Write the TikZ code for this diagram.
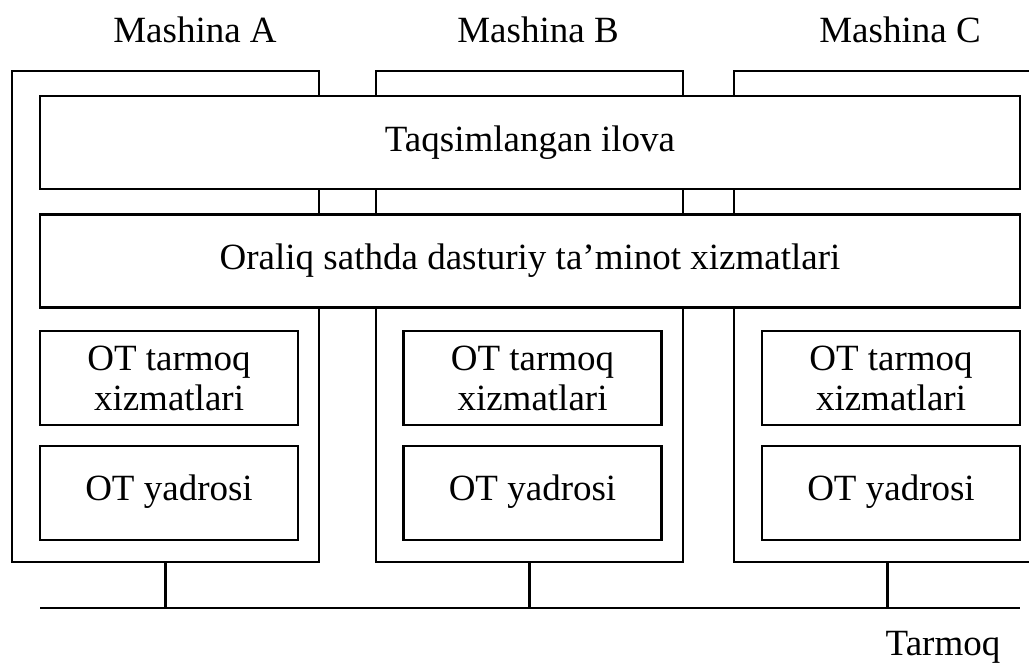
\documentclass[tikz,border=0pt]{standalone}
\usepackage{fontspec}
\setmainfont{Liberation Serif}
\begin{document}
\begin{tikzpicture}[x=1pt,y=-1pt,
  lw/.style={line width=2.2pt},
  machine/.style={draw,lw,rectangle,minimum width=307pt,minimum height=491pt,inner sep=0pt},
  bar/.style={draw,lw,fill=white,rectangle,minimum width=980pt,minimum height=93pt,inner sep=0pt},
  inbox/.style={draw,lw,fill=white,rectangle,minimum width=258pt,minimum height=94pt,inner sep=0pt,align=center},
  lbl/.style={font=\fontsize{37}{37}\selectfont,inner sep=0pt,anchor=base},
  txt/.style={font=\fontsize{37}{40}\selectfont}]
\useasboundingbox (0,0) rectangle (1029,665);
\node[machine] (mA) at (165.5,316.5) {};
\node[machine] (mB) at (529.5,316.5) {};
\node[machine] (mC) at (887.5,316.5) {};
\node[bar,txt] (app) at (530,142.5) {Taqsimlangan ilova};
\node[bar,txt] (mid) at (530,261) {Oraliq sathda dasturiy ta’minot xizmatlari};
\foreach \n/\x in {A/169,B/532.5,C/891}{
  \node[inbox,txt] (net\n) at (\x,378) {OT tarmoq\\xizmatlari};
  \node[inbox,txt,text depth=10pt] (ker\n) at (\x,493) {OT yadrosi};
}
\node[lbl] (lA) at (195,42) {Mashina A};
\node[lbl] (lB) at (538,42) {Mashina B};
\node[lbl] (lC) at (900,42) {Mashina C};
\coordinate (nl) at (40,608);
\coordinate (nr) at (1020,608);
\draw[lw] (nl) -- (nr);
\foreach \m in {A,B,C}{
  \draw[lw] (m\m.south) -- (m\m.south |- nl);
}
\node[lbl] (tar) at (943,655) {Tarmoq};
\end{tikzpicture}
\end{document}
